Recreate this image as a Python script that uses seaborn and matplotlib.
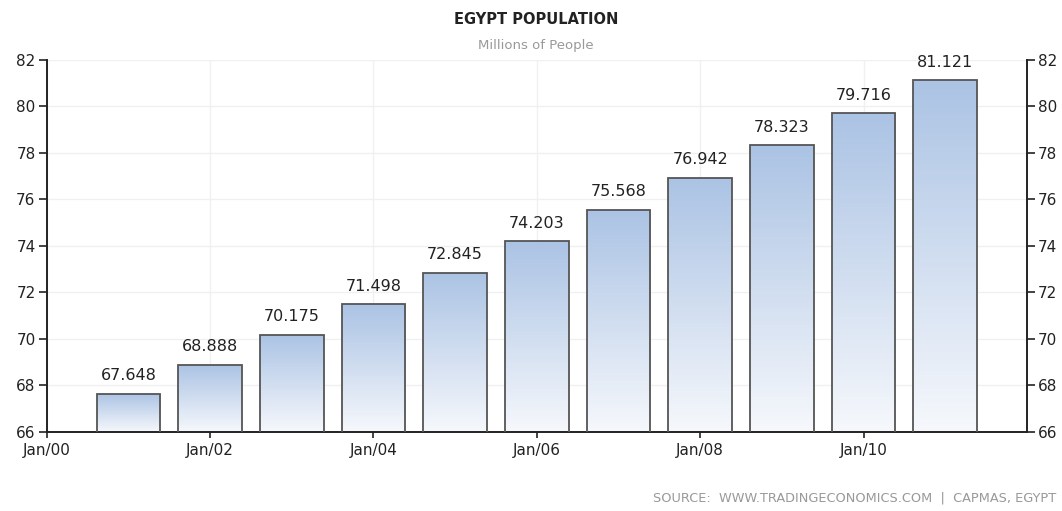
import matplotlib
matplotlib.use("Agg")
import matplotlib.pyplot as plt
import numpy as np
import pandas as pd
import seaborn as sns
from matplotlib.colors import LinearSegmentedColormap

years = [2001, 2002, 2003, 2004, 2005, 2006, 2007, 2008, 2009, 2010, 2011]
population = [67.648, 68.888, 70.175, 71.498, 72.845, 74.203, 75.568, 76.942, 78.323, 79.716, 81.121]
xtick_years = [2000, 2002, 2004, 2006, 2008, 2010]
xtick_labels = ["Jan/00", "Jan/02", "Jan/04", "Jan/06", "Jan/08", "Jan/10"]
yticks = [66, 68, 70, 72, 74, 76, 78, 80, 82]

sns.set_style("white")
plt.rcParams["font.family"] = ["DejaVu Sans"]

df = pd.DataFrame({"year": years, "pop": population})

fig = plt.figure(figsize=(10.62, 5.11), dpi=100)
ax = fig.add_axes([0.044, 0.1546, 0.923, 0.728])

sns.barplot(data=df, x="year", y="pop", native_scale=True, width=0.78,
            color="#b0c6e5", edgecolor="#555555", linewidth=1.3, ax=ax, zorder=3)

ax.set_xlim(2000, 2012)
ax.set_ylim(66, 82)

cmap = LinearSegmentedColormap.from_list("g", ["#f6f8fc", "#abc3e4"])
grad = np.linspace(0, 1, 256).reshape(-1, 1)
for p in ax.patches:
    x0 = p.get_x(); w = p.get_width(); h = p.get_y() + p.get_height()
    p.set_facecolor("none")
    im = ax.imshow(grad, cmap=cmap, origin="lower", aspect="auto",
                   extent=[x0, x0 + w, 66, h], zorder=2.5, interpolation="bicubic")
    im.set_clip_path(p)

for x, v in zip(years, population):
    ax.text(x, v + 0.45, f"{v:.3f}", ha="center", va="bottom", fontsize=11.5,
            color="#222222", zorder=4)

ax.set_xticks(xtick_years)
ax.set_xticklabels(xtick_labels, fontsize=11, color="#222222")
ax.set_yticks(yticks)
ax.set_yticklabels([str(t) for t in yticks], fontsize=11, color="#222222")
ax.tick_params(axis="y", which="both", left=True, right=True, labelleft=True,
               labelright=True, length=6, width=1.2, color="#222222", pad=2)
ax.tick_params(axis="x", bottom=True, length=4, width=1.2, color="#222222", pad=4)
ax.set_xlabel("")
ax.set_ylabel("")

ax.grid(True, axis="both", color="#f0f0f0", linewidth=1, zorder=0)
ax.set_axisbelow(True)

ax.spines["top"].set_visible(False)
for s in ["left", "right", "bottom"]:
    ax.spines[s].set_visible(True)
    ax.spines[s].set_color("#222222")
    ax.spines[s].set_linewidth(1.4)

fig.text(0.505, 0.962, "EGYPT POPULATION", ha="center", va="center",
         fontsize=10.5, fontweight="bold", color="#222222")
fig.text(0.505, 0.910, "Millions of People", ha="center", va="center",
         fontsize=9.5, color="#999999")
fig.text(0.995, 0.026, "SOURCE:  WWW.TRADINGECONOMICS.COM  |  CAPMAS, EGYPT",
         ha="right", va="center", fontsize=9.3, color="#999999")

fig.savefig("out.png", dpi=100, facecolor="white")
